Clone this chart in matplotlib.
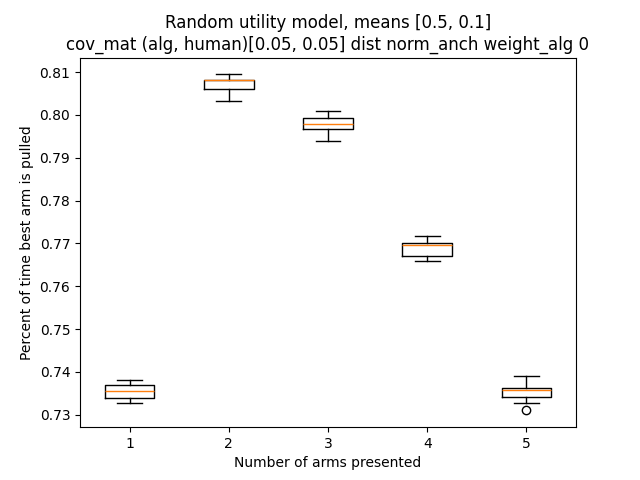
import matplotlib
matplotlib.use("Agg")
import matplotlib.pyplot as plt

positions = [1, 2, 3, 4, 5]
whislo = [0.73280, 0.80329, 0.79380, 0.76584, 0.73271]
q1 = [0.73388, 0.80610, 0.79668, 0.76717, 0.73411]
med = [0.73545, 0.80806, 0.79799, 0.76958, 0.73575]
q3 = [0.73685, 0.80813, 0.79925, 0.76998, 0.73615]
whishi = [0.73818, 0.80946, 0.80089, 0.77184, 0.73895]
fliers = [[], [], [], [], [0.73100]]

stats = []
for i in range(len(positions)):
    stats.append(dict(med=med[i], q1=q1[i], q3=q3[i], whislo=whislo[i],
                      whishi=whishi[i], fliers=fliers[i], label=str(positions[i])))

fig, ax = plt.subplots(figsize=(6.4, 4.8), dpi=100)
ax.bxp(stats, positions=positions)
ax.set_title("Random utility model, means [0.5, 0.1]\ncov_mat (alg, human)[0.05, 0.05] dist norm_anch weight_alg 0")
ax.set_xlabel("Number of arms presented")
ax.set_ylabel("Percent of time best arm is pulled")
fig.savefig("out.png")
